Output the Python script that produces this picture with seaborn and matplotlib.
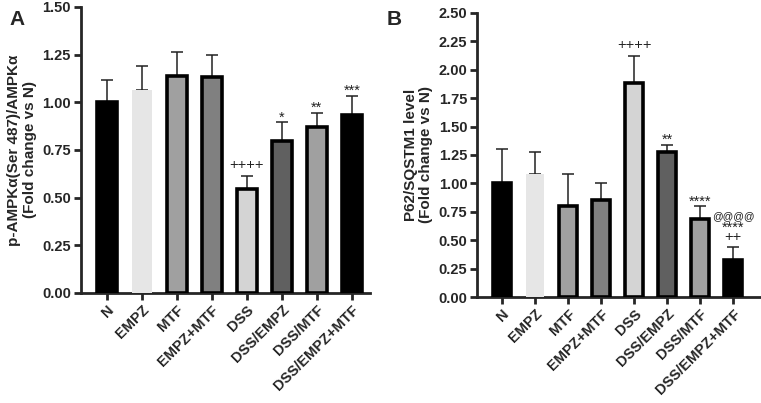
import matplotlib
matplotlib.use("Agg")
import matplotlib.pyplot as plt
import seaborn as sns
import numpy as np
import pandas as pd

groups = ["N", "EMPZ", "MTF", "EMPZ+MTF", "DSS", "DSS/EMPZ", "DSS/MTF", "DSS/EMPZ+MTF"]
colors = ["#000000", "#e6e6e6", "#a0a0a0", "#808080", "#d4d4d4", "#606060", "#a0a0a0", "#000000"]

ampk_mean = [1.00, 1.065, 1.135, 1.13, 0.545, 0.795, 0.87, 0.935]
ampk_err = [0.115, 0.125, 0.13, 0.12, 0.07, 0.10, 0.075, 0.10]
ampk_sig = [[], [], [], [], ["++++"], ["*"], ["**"], ["***"]]

p62_mean = [1.00, 1.08, 0.80, 0.85, 1.88, 1.28, 0.69, 0.33]
p62_err = [0.30, 0.20, 0.28, 0.15, 0.24, 0.06, 0.11, 0.11]
p62_sig = [[], [], [], [], ["++++"], ["**"], ["****"], ["****\n++", "@@@@"]]

sns.set_style("ticks")
plt.rcParams['font.family'] = ['Liberation Sans', 'DejaVu Sans']

fig = plt.figure(figsize=(7.61, 4.03), dpi=100)
axA = fig.add_axes([0.106, 0.273, 0.380, 0.710])
axB = fig.add_axes([0.627, 0.263, 0.372, 0.705])

# baseline offsets (points above error bar top) per symbol type
sym_offset = {"+": 5.0, "*": 0.5, "@": 20.0}
sym_size = {"+": 10.5, "*": 10.5, "@": 7.5}


def panel(ax, means, errs, sigs, ymax, ylabel, xlim, width):
    df = pd.DataFrame({"group": groups, "value": means})
    sns.barplot(data=df, x="group", y="value", hue="group", palette=colors,
                legend=False, ax=ax, width=width, errorbar=None, zorder=3)
    for i, p in enumerate(ax.patches):
        if groups[i] == "EMPZ":
            p.set_edgecolor(colors[i])
            p.set_linewidth(0)
        else:
            p.set_edgecolor("black")
            p.set_linewidth(2.6)
    x = np.arange(len(groups))
    ax.errorbar(x, means, yerr=[np.zeros(len(means)), errs], fmt="none",
                ecolor="#222222", elinewidth=1.1, capsize=4.3, capthick=1.1, zorder=2)
    for i, lines in enumerate(sigs):
        top = means[i] + errs[i]
        for s in lines:
            c = s[0]
            if "\n" in s:
                ax.annotate(s, (i, top), xytext=(0, 2.5), textcoords="offset points",
                            ha="center", va="bottom", fontsize=10.5,
                            linespacing=0.5, color="#222222")
            else:
                ax.annotate(s, (i, top), xytext=(0, sym_offset[c]),
                            textcoords="offset points", ha="center",
                            va="baseline", fontsize=sym_size[c], color="#222222")
    ax.set_ylim(0, ymax)
    ax.set_xlim(*xlim)
    ticks = np.arange(0, ymax + 0.001, 0.25)
    ax.set_yticks(ticks)
    ax.set_yticklabels([f"{v:.2f}" for v in ticks], fontweight="bold", fontsize=10.5)
    ax.set_xticks(x)
    ax.set_xticklabels(groups, rotation=45, ha="right", rotation_mode="anchor",
                       fontweight="bold", fontsize=10.5)
    ax.set_xlabel("")
    ax.set_ylabel(ylabel, fontweight="bold", fontsize=11, linespacing=1.1)
    for side in ["top", "right"]:
        ax.spines[side].set_visible(False)
    for side in ["left", "bottom"]:
        ax.spines[side].set_linewidth(2)
    ax.tick_params(axis="both", width=2, length=5, direction="out", pad=2)


panel(axA, ampk_mean, ampk_err, ampk_sig, 1.5,
      "p-AMPKα(Ser 487)/AMPKα\n(Fold change vs N)", (-0.74, 7.51), 0.57)
panel(axB, p62_mean, p62_err, p62_sig, 2.5,
      "P62/SQSTM1 level\n(Fold change vs N)", (-0.76, 7.82), 0.56)

fig.text(0.012, 0.938, "A", fontsize=15, fontweight="bold")
fig.text(0.508, 0.938, "B", fontsize=15, fontweight="bold")

fig.savefig("out.png", dpi=100)
